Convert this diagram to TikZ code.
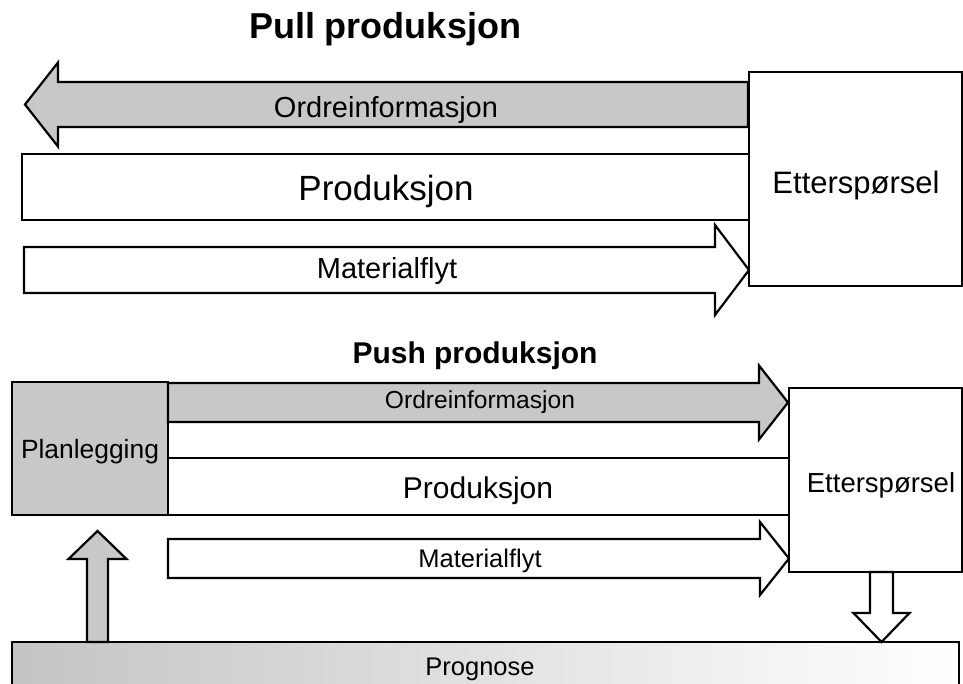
\documentclass[tikz,border=0pt]{standalone}
\usepackage{fontspec}
\setmainfont{Liberation Sans}
\definecolor{panelgray}{RGB}{200,200,200}
\definecolor{fadegray}{RGB}{196,196,196}
\begin{document}
\begin{tikzpicture}[x=1pt,y=-1pt,
  outline/.style={draw=black, line width=2.2pt, line join=miter},
  grayshape/.style={outline, fill=panelgray},
  whiteshape/.style={outline, fill=white},
  lbl/.style={inner sep=0pt, anchor=base, text=black},
  fs/.style={font=\fontsize{#1}{#1}\selectfont},
  fsb/.style={font=\fontsize{#1}{#1}\selectfont\bfseries},
]
\useasboundingbox (0,0) rectangle (963,683);

% ---------------- Pull ----------------
\node[lbl, fsb=36] (pulltitle) at (385,38) {Pull produksjon};

% order information flows backwards (right to left)
\draw[grayshape] (748,82) -- (58,82) -- (58,62.5) -- (25,104.5) -- (58,146.5) -- (58,127) -- (748,127) -- cycle;
\node[lbl, fs=29] (pullorder) at (386,117) {Ordreinformasjon};

% production band
\draw[outline] (749,154) -- (22,154) -- (22,220) -- (749,220);
\node[lbl, fs=35] (pullprod) at (386,200) {Produksjon};

% material flow forwards
\draw[whiteshape] (24,247) -- (715,247) -- (715,225) -- (749,270) -- (715,315) -- (715,293) -- (24,293) -- cycle;
\node[lbl, fs=29] (pullmat) at (387,278) {Materialflyt};

% demand
\draw[whiteshape] (749,72) rectangle (962,286);
\node[lbl, fs=31] (pulldemand) at (856,193) {Etterspørsel};

% ---------------- Push ----------------
\node[lbl, fsb=30] (pushtitle) at (475,363) {Push produksjon};

% planning
\draw[grayshape] (12,382) rectangle (168,515);
\node[lbl, fs=26.4] (plan) at (90,458) {Planlegging};

% order information flows forwards
\draw[grayshape] (168,383) -- (759,383) -- (759,365.5) -- (788,402.5) -- (759,439.5) -- (759,422) -- (168,422) -- cycle;
\node[lbl, fs=24.6] (pushorder) at (480,408) {Ordreinformasjon};

% production band
\draw[outline] (168,458) -- (789,458);
\draw[outline] (168,515) -- (789,515);
\node[lbl, fs=30] (pushprod) at (478,498) {Produksjon};

% material flow
\draw[whiteshape] (168,539) -- (760,539) -- (760,522) -- (789,558.5) -- (760,595) -- (760,578) -- (168,578) -- cycle;
\node[lbl, fs=25.5] (pushmat) at (480,567) {Materialflyt};

% demand
\draw[whiteshape] (789,388) rectangle (962,572);
\node[lbl, fs=27.5] (pushdemand) at (881,492) {Etterspørsel};

% forecast
\shade[left color=fadegray, right color=white] (12,642) rectangle (959,690);
\draw[outline] (12,690) -- (12,642) -- (959,642) -- (959,690);
\node[lbl, fs=25.5] (forecast) at (480,675) {Prognose};

% demand feeds the forecast
\draw[whiteshape] (870,572) -- (870,613) -- (853.5,613) -- (881.5,642) -- (909.5,613) -- (893,613) -- (893,572) -- cycle;

% forecast feeds planning
\draw[grayshape] (87,642) -- (87,559) -- (68.5,559) -- (97.5,531) -- (126.5,559) -- (108,559) -- (108,642) -- cycle;
\end{tikzpicture}
\end{document}
